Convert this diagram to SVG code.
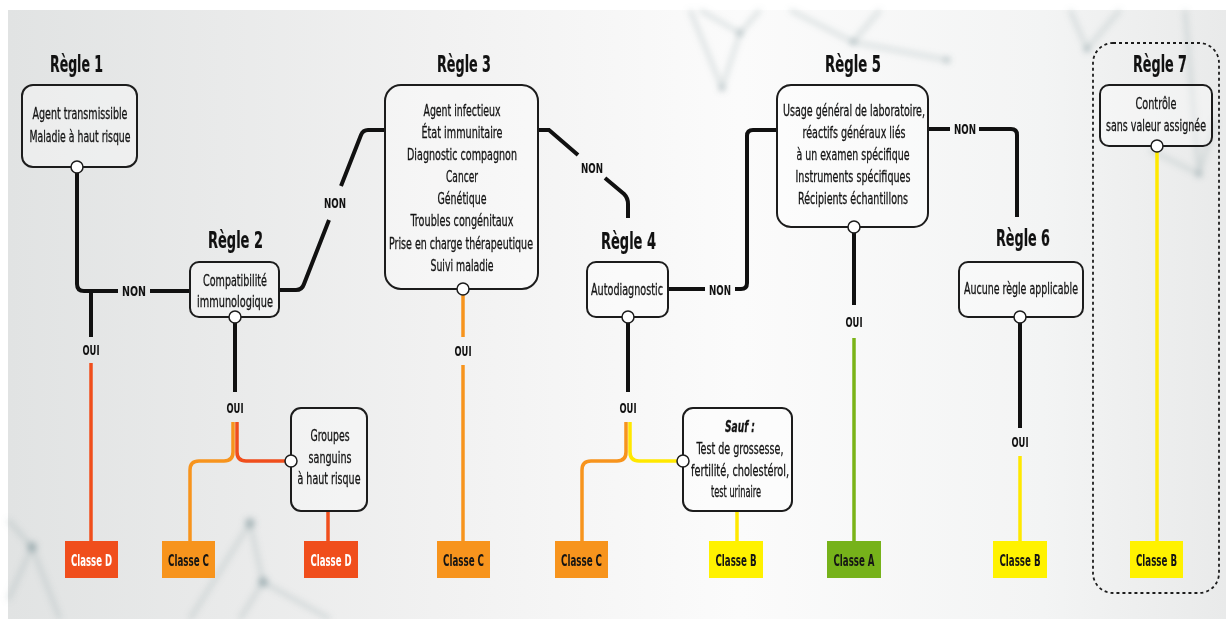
<svg xmlns="http://www.w3.org/2000/svg" width="1226" height="619" viewBox="0 0 1226 619">
  <defs>
    <linearGradient id="bgGrad" x1="0" y1="0" x2="1" y2="0">
      <stop offset="0" stop-color="#e1e3e3"/>
      <stop offset="0.35" stop-color="#f1f1f1"/>
      <stop offset="0.6" stop-color="#fbfbfb"/>
      <stop offset="0.85" stop-color="#f3f4f4"/>
      <stop offset="1" stop-color="#e9eaea"/>
    </linearGradient>
    <filter id="soft" x="-20%" y="-20%" width="140%" height="140%">
      <feGaussianBlur stdDeviation="3"/>
    </filter>
    <style>
      .t { font-family: "Liberation Sans Narrow", "DejaVu Sans Condensed", "Liberation Sans", sans-serif; font-size: 15.5px; fill: #141414; stroke: #141414; stroke-width: 0.3px; text-anchor: middle; }
      .h { font-weight: bold; font-size: 23px; fill: #111; stroke-width: 0.2px; }
      .lbl { font-weight: bold; font-size: 13.5px; fill: #111; stroke-width: 0; }
      .cls { font-weight: bold; font-size: 15px; stroke-width: 0; }
      .wt { fill: #ffffff; }
      .box { fill: #ffffff; fill-opacity: 0.35; stroke: #1c1c1c; stroke-width: 2; }
      .port { fill: #ffffff; stroke: #1c1c1c; stroke-width: 1.5; }
      .wire { fill: none; stroke: #111111; stroke-width: 4; }
      .red { stroke: #f04e1c; stroke-width: 3.5; }
      .org { stroke: #f7941d; stroke-width: 3.5; }
      .yel { stroke: #ffe800; stroke-width: 3.5; }
      .grn { stroke: #7ab317; stroke-width: 3.5; }
      .net { fill: none; stroke: #8ea3a7; stroke-width: 3.5; opacity: 0.35; }
      .dot { fill: #6f8a90; opacity: 0.5; }
    </style>
  </defs>

  <!-- page background -->
  <rect x="0" y="0" width="1226" height="619" fill="#ffffff"/>
  <rect x="8" y="10" width="1218" height="609" fill="url(#bgGrad)"/>

  <!-- faint network decoration -->
  <g id="decor" filter="url(#soft)">
    <path class="net" d="M700 10 L740 33 L722 88 M760 10 L740 33 M722 88 L690 10 M790 10 L853 42 L947 60 M853 42 L880 10 M1070 10 L1087 49 L1120 10"/>
    <path class="net" d="M1185 10 L1199 174 M1150 150 L1199 174 L1215 120"/>
    <path class="net" d="M8 600 L32 547 L60 619 M32 547 L8 520"/>
    <path class="net" d="M250 523 L190 619 M250 523 L263 582 L330 619 M263 582 L240 619"/>
    <circle class="dot" cx="740" cy="33" r="3"/>
    <circle class="dot" cx="722" cy="88" r="3"/>
    <circle class="dot" cx="853" cy="42" r="3"/>
    <circle class="dot" cx="947" cy="60" r="3"/>
    <circle class="dot" cx="1087" cy="49" r="3"/>
    <circle class="dot" cx="1199" cy="174" r="3"/>
    <circle class="dot" cx="32" cy="547" r="5"/>
    <circle class="dot" cx="250" cy="523" r="5"/>
    <circle class="dot" cx="263" cy="582" r="5"/>
  </g>

  <!-- connectors -->
  <g id="connectors">
    <!-- Règle 1 -->
    <path class="wire" d="M77 167 V284 Q77 291 84 291 H118"/>
    <path class="wire" d="M150 291 H190"/>
    <path class="wire" d="M91 291 V337"/>
    <path class="wire red" d="M91 363 V541"/>
    <!-- Règle 2 -->
    <path class="wire" d="M279 290 H296 Q302 290 304 284 L329 220"/>
    <path class="wire" d="M341 186 L361 135 Q363 130 368 130 H385"/>
    <path class="wire" d="M235 317 V392"/>
    <path class="wire org" d="M233 422 V452 Q233 461 224 461 H199 Q190 461 190 470 V541"/>
    <path class="wire red" d="M237 422 V452 Q237 461 246 461 H291"/>
    <path class="wire red" d="M328 511 V541"/>
    <!-- Règle 3 -->
    <path class="wire" d="M538 130 H549 L578 155"/>
    <path class="wire" d="M605 178 L624 194 Q628 198 628 204 V218"/>
    <path class="wire org" d="M463 289 V337"/>
    <path class="wire org" d="M463 365 V541"/>
    <!-- Règle 4 -->
    <path class="wire" d="M668 289 H705"/>
    <path class="wire" d="M735 289 H741 Q747 289 747 283 V136 Q747 130 753 130 H777"/>
    <path class="wire" d="M628 317 V392"/>
    <path class="wire org" d="M626 422 V452 Q626 461 617 461 H591 Q582 461 582 470 V541"/>
    <path class="wire yel" d="M630 422 V452 Q630 461 639 461 H683"/>
    <path class="wire yel" d="M737 511 V541"/>
    <!-- Règle 5 -->
    <path class="wire" d="M928 129 H950"/>
    <path class="wire" d="M979 129 H1011 Q1017 129 1017 135 V217"/>
    <path class="wire" d="M854 227 V305"/>
    <path class="wire grn" d="M854 338 V541"/>
    <!-- Règle 6 -->
    <path class="wire" d="M1020 317 V428"/>
    <path class="wire yel" d="M1020 456 V541"/>
    <!-- Règle 7 -->
    <path class="wire yel" d="M1157 146 V541"/>

    <!-- branch labels -->
    <text class="t lbl" x="134" y="296" textLength="24" lengthAdjust="spacingAndGlyphs">NON</text>
    <text class="t lbl" x="91" y="355" textLength="17" lengthAdjust="spacingAndGlyphs">OUI</text>
    <text class="t lbl" x="335" y="208" textLength="22" lengthAdjust="spacingAndGlyphs">NON</text>
    <text class="t lbl" x="235" y="413" textLength="17" lengthAdjust="spacingAndGlyphs">OUI</text>
    <text class="t lbl" x="463" y="356" textLength="17" lengthAdjust="spacingAndGlyphs">OUI</text>
    <text class="t lbl" x="592" y="173" textLength="22" lengthAdjust="spacingAndGlyphs">NON</text>
    <text class="t lbl" x="720" y="294.5" textLength="22" lengthAdjust="spacingAndGlyphs">NON</text>
    <text class="t lbl" x="628" y="413" textLength="17" lengthAdjust="spacingAndGlyphs">OUI</text>
    <text class="t lbl" x="965" y="134" textLength="22" lengthAdjust="spacingAndGlyphs">NON</text>
    <text class="t lbl" x="854" y="327" textLength="17" lengthAdjust="spacingAndGlyphs">OUI</text>
    <text class="t lbl" x="1020" y="447" textLength="17" lengthAdjust="spacingAndGlyphs">OUI</text>
  </g>

  <!-- Règle 1 -->
  <g id="regle1">
    <text class="t h" x="76.5" y="72" textLength="53" lengthAdjust="spacingAndGlyphs">Règle 1</text>
    <rect class="box" x="22" y="85" width="115" height="82" rx="11"/>
    <text class="t" x="80" y="118.5" textLength="95" lengthAdjust="spacingAndGlyphs">Agent transmissible</text>
    <text class="t" x="80" y="141.5" textLength="101" lengthAdjust="spacingAndGlyphs">Maladie à haut risque</text>
    <circle class="port" cx="77" cy="167" r="6"/>
  </g>

  <!-- Règle 2 -->
  <g id="regle2">
    <text class="t h" x="235.5" y="248" textLength="55" lengthAdjust="spacingAndGlyphs">Règle 2</text>
    <rect class="box" x="190" y="262" width="89" height="55" rx="9"/>
    <text class="t" x="235" y="285.5" textLength="64" lengthAdjust="spacingAndGlyphs">Compatibilité</text>
    <text class="t" x="235" y="306.5" textLength="76" lengthAdjust="spacingAndGlyphs">immunologique</text>
    <circle class="port" cx="235" cy="317" r="6"/>
  </g>

  <!-- Groupes sanguins -->
  <g id="groupes">
    <rect class="box" x="291" y="408" width="76" height="103" rx="10"/>
    <text class="t" x="330" y="440.5" textLength="39" lengthAdjust="spacingAndGlyphs">Groupes</text>
    <text class="t" x="330" y="462.5" textLength="43" lengthAdjust="spacingAndGlyphs">sanguins</text>
    <text class="t" x="329" y="483.5" textLength="63" lengthAdjust="spacingAndGlyphs">à haut risque</text>
    <circle class="port" cx="291" cy="461" r="6"/>
  </g>

  <!-- Règle 3 -->
  <g id="regle3">
    <text class="t h" x="464" y="72" textLength="54" lengthAdjust="spacingAndGlyphs">Règle 3</text>
    <rect class="box" x="385" y="85" width="153" height="204" rx="16"/>
    <text class="t" x="462" y="115.5" textLength="77" lengthAdjust="spacingAndGlyphs">Agent infectieux</text>
    <text class="t" x="462" y="137.5" textLength="81" lengthAdjust="spacingAndGlyphs">État immunitaire</text>
    <text class="t" x="462" y="159.5" textLength="110" lengthAdjust="spacingAndGlyphs">Diagnostic compagnon</text>
    <text class="t" x="462" y="181.5" textLength="32" lengthAdjust="spacingAndGlyphs">Cancer</text>
    <text class="t" x="462" y="203.5" textLength="49" lengthAdjust="spacingAndGlyphs">Génétique</text>
    <text class="t" x="462" y="225.5" textLength="103" lengthAdjust="spacingAndGlyphs">Troubles congénitaux</text>
    <text class="t" x="461" y="248.5" textLength="144" lengthAdjust="spacingAndGlyphs">Prise en charge thérapeutique</text>
    <text class="t" x="462" y="270.5" textLength="63" lengthAdjust="spacingAndGlyphs">Suivi maladie</text>
    <circle class="port" cx="463" cy="289" r="6"/>
  </g>

  <!-- Règle 4 -->
  <g id="regle4">
    <text class="t h" x="628.5" y="249" textLength="55" lengthAdjust="spacingAndGlyphs">Règle 4</text>
    <rect class="box" x="587" y="262" width="81" height="55" rx="9"/>
    <text class="t" x="627" y="294.5" textLength="72" lengthAdjust="spacingAndGlyphs">Autodiagnostic</text>
    <circle class="port" cx="628" cy="317" r="6"/>
  </g>

  <!-- Exceptions -->
  <g id="sauf">
    <rect class="box" x="683" y="408" width="109" height="103" rx="10"/>
    <text class="t" x="740" y="431.5" font-weight="bold" font-style="italic" textLength="30" lengthAdjust="spacingAndGlyphs">Sauf :</text>
    <text class="t" x="740" y="453.5" textLength="87" lengthAdjust="spacingAndGlyphs">Test de grossesse,</text>
    <text class="t" x="740" y="475.5" textLength="98" lengthAdjust="spacingAndGlyphs">fertilité, cholestérol,</text>
    <text class="t" x="736" y="496.5" textLength="50" lengthAdjust="spacingAndGlyphs">test urinaire</text>
    <circle class="port" cx="683" cy="461" r="6"/>
  </g>

  <!-- Règle 5 -->
  <g id="regle5">
    <text class="t h" x="853" y="72" textLength="56" lengthAdjust="spacingAndGlyphs">Règle 5</text>
    <rect class="box" x="777" y="85" width="151" height="142" rx="14"/>
    <text class="t" x="854" y="115.5" textLength="142" lengthAdjust="spacingAndGlyphs">Usage général de laboratoire,</text>
    <text class="t" x="854" y="137.5" textLength="103" lengthAdjust="spacingAndGlyphs">réactifs généraux liés</text>
    <text class="t" x="853" y="159.5" textLength="113" lengthAdjust="spacingAndGlyphs">à un examen spécifique</text>
    <text class="t" x="853" y="181.5" textLength="115" lengthAdjust="spacingAndGlyphs">Instruments spécifiques</text>
    <text class="t" x="853" y="203.5" textLength="110" lengthAdjust="spacingAndGlyphs">Récipients échantillons</text>
    <circle class="port" cx="854" cy="227" r="6"/>
  </g>

  <!-- Règle 6 -->
  <g id="regle6">
    <text class="t h" x="1023" y="246" textLength="54" lengthAdjust="spacingAndGlyphs">Règle 6</text>
    <rect class="box" x="959" y="262" width="124" height="55" rx="9"/>
    <text class="t" x="1021" y="293.5" textLength="114" lengthAdjust="spacingAndGlyphs">Aucune règle applicable</text>
    <circle class="port" cx="1020" cy="317" r="6"/>
  </g>

  <!-- Règle 7 -->
  <g id="regle7">
    <rect x="1093" y="43" width="126" height="550" rx="20" fill="none" stroke="#1c1c1c" stroke-width="1.8" stroke-dasharray="3 3"/>
    <text class="t h" x="1160" y="72" textLength="54" lengthAdjust="spacingAndGlyphs">Règle 7</text>
    <rect class="box" x="1100" y="85" width="112" height="61" rx="9"/>
    <text class="t" x="1156" y="108.5" textLength="41" lengthAdjust="spacingAndGlyphs">Contrôle</text>
    <text class="t" x="1156" y="130.5" font-size="14" textLength="100" lengthAdjust="spacingAndGlyphs">sans valeur assignée</text>
    <circle class="port" cx="1157" cy="146" r="6"/>
  </g>

  <!-- classes -->
  <g id="classe-d1">
    <rect x="65" y="541" width="53" height="37" fill="#f04e1c"/>
    <text class="t cls wt" x="91.5" y="565.5" textLength="41" lengthAdjust="spacingAndGlyphs">Classe D</text>
  </g>
  <g id="classe-c1">
    <rect x="162" y="541" width="53" height="37" fill="#f7941d"/>
    <text class="t cls" x="188.5" y="565.5" textLength="41" lengthAdjust="spacingAndGlyphs">Classe C</text>
  </g>
  <g id="classe-d2">
    <rect x="304" y="541" width="54" height="37" fill="#f04e1c"/>
    <text class="t cls wt" x="331" y="565.5" textLength="41" lengthAdjust="spacingAndGlyphs">Classe D</text>
  </g>
  <g id="classe-c2">
    <rect x="437" y="541" width="53" height="37" fill="#f7941d"/>
    <text class="t cls" x="463.5" y="565.5" textLength="41" lengthAdjust="spacingAndGlyphs">Classe C</text>
  </g>
  <g id="classe-c3">
    <rect x="555" y="541" width="53" height="37" fill="#f7941d"/>
    <text class="t cls" x="581.5" y="565.5" textLength="41" lengthAdjust="spacingAndGlyphs">Classe C</text>
  </g>
  <g id="classe-b1">
    <rect x="709" y="541" width="54" height="37" fill="#fff200"/>
    <text class="t cls" x="736" y="565.5" textLength="41" lengthAdjust="spacingAndGlyphs">Classe B</text>
  </g>
  <g id="classe-a">
    <rect x="827" y="541" width="54" height="37" fill="#76b21a"/>
    <text class="t cls" x="854" y="565.5" textLength="41" lengthAdjust="spacingAndGlyphs">Classe A</text>
  </g>
  <g id="classe-b2">
    <rect x="993" y="541" width="54" height="37" fill="#fff200"/>
    <text class="t cls" x="1020" y="565.5" textLength="41" lengthAdjust="spacingAndGlyphs">Classe B</text>
  </g>
  <g id="classe-b3">
    <rect x="1130" y="541" width="53" height="37" fill="#fff200"/>
    <text class="t cls" x="1156.5" y="565.5" textLength="41" lengthAdjust="spacingAndGlyphs">Classe B</text>
  </g>
</svg>
